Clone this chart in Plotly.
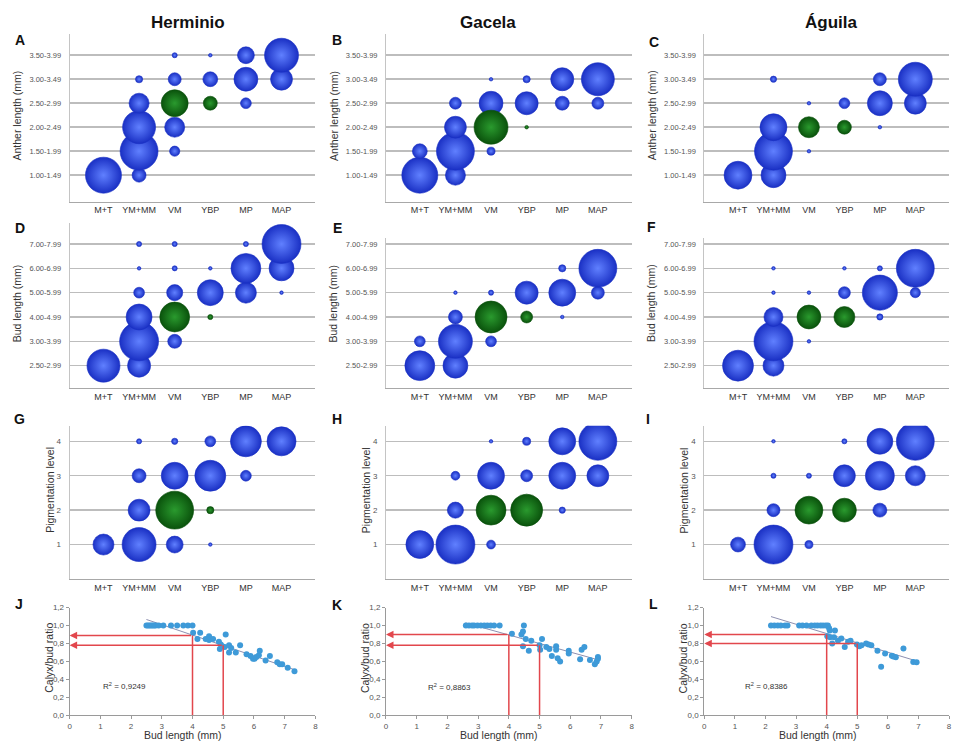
import plotly.graph_objects as go

W, H = 958, 745

# ---------------- data ----------------
cultivars = ["Herminio", "Gacela", "Águila"]
stages = ["M+T", "YM+MM", "VM", "YBP", "MP", "MAP"]
anther_classes = ["1.00-1.49", "1.50-1.99", "2.00-2.49", "2.50-2.99", "3.00-3.49", "3.50-3.99"]
bud_classes = ["2.50-2.99", "3.00-3.99", "4.00-4.99", "5.00-5.99", "6.00-6.99", "7.00-7.99"]
pigment_levels = [1, 2, 3, 4]

# bubble counts: rows = class (low -> high), columns = stage
herminio_anther = [
    [100, 15, 0, 0, 0, 0],
    [0, 111, 8, 0, 0, 0],
    [0, 84, 31, 0, 0, 0],
    [0, 31, 56, 15, 9, 0],
    [0, 4, 13, 17, 44, 37],
    [0, 0, 2, 1, 22, 89],
]
gacela_anther = [
    [100, 31, 0, 0, 0, 0],
    [17, 111, 5, 0, 0, 0],
    [0, 37, 89, 1, 0, 0],
    [0, 11, 44, 41, 15, 11],
    [0, 0, 1, 4, 41, 84],
    [0, 0, 0, 0, 0, 0],
]
aguila_anther = [
    [60, 48, 0, 0, 0, 0],
    [0, 111, 1, 0, 0, 0],
    [0, 56, 34, 15, 1, 0],
    [0, 0, 1, 9, 48, 37],
    [0, 3, 0, 0, 13, 89],
    [0, 0, 0, 0, 0, 0],
]
herminio_bud = [
    [84, 41, 0, 0, 0, 0],
    [0, 117, 15, 0, 0, 0],
    [0, 52, 69, 2, 0, 0],
    [0, 9, 20, 52, 34, 1],
    [0, 1, 2, 1, 69, 48],
    [0, 2, 2, 0, 2, 117],
]
gacela_bud = [
    [69, 48, 0, 0, 0, 0],
    [9, 89, 9, 0, 0, 0],
    [0, 15, 79, 11, 1, 0],
    [0, 1, 2, 41, 56, 13],
    [0, 0, 0, 0, 4, 111],
    [0, 0, 0, 0, 0, 0],
]
aguila_bud = [
    [74, 34, 0, 0, 0, 0],
    [0, 117, 1, 0, 0, 0],
    [0, 28, 44, 34, 3, 0],
    [0, 1, 1, 11, 95, 8],
    [0, 1, 0, 1, 2, 111],
    [0, 0, 0, 0, 0, 0],
]
herminio_pigment = [
    [34, 89, 22, 1, 0, 0],
    [0, 37, 111, 4, 0, 0],
    [0, 15, 56, 74, 9, 0],
    [0, 2, 3, 9, 74, 65],
]
gacela_pigment = [
    [60, 117, 6, 0, 0, 0],
    [0, 20, 69, 79, 3, 0],
    [0, 6, 56, 11, 56, 37],
    [0, 0, 1, 5, 56, 111],
]
aguila_pigment = [
    [17, 117, 5, 0, 0, 0],
    [0, 13, 60, 44, 15, 0],
    [0, 2, 2, 37, 65, 31],
    [0, 1, 0, 2, 52, 111],
]
# class index at which the VM / YBP bubbles are highlighted (green)
green_class = {"A": 3, "B": 2, "C": 2, "D": 2, "E": 2, "F": 2, "G": 1, "H": 1, "I": 1}
green_stages = ["VM", "YBP"]

# calyx/bud ratio vs bud length
herminio_len = [2.5, 2.55, 2.6, 2.65, 2.7, 2.75, 2.8, 2.9, 3.05, 3.3, 3.5, 3.7, 3.85, 4.0,
                4.02, 4.16, 4.25, 4.43, 4.54, 4.54, 4.67, 4.86, 4.92, 4.89, 4.97, 5.08, 5.05,
                5.19, 5.19, 5.26, 5.41, 5.55, 5.76, 5.89, 5.97, 6.02, 6.08, 6.16, 6.19, 6.38,
                6.52, 6.76, 6.84, 6.92, 7.1, 7.32]
herminio_ratio = [1.0] * 14 + [0.92, 0.85, 0.92, 0.85, 0.84, 0.88, 0.85, 0.82, 0.79, 0.74, 0.77,
                               0.90, 0.76, 0.78, 0.70, 0.75, 0.70, 0.78, 0.68, 0.66, 0.63, 0.63,
                               0.65, 0.67, 0.72, 0.61, 0.66, 0.59, 0.57, 0.57, 0.53, 0.49]
gacela_len = [2.6, 2.7, 2.8, 2.87, 2.98, 3.09, 3.2, 3.3, 3.41, 3.52, 3.7,
              4.1, 4.41, 4.46, 4.49, 4.55, 4.46, 4.73, 4.65, 5.0, 5.02, 5.08, 5.22, 5.32, 5.4,
              5.54, 5.54, 5.59, 5.67, 5.95, 5.95, 6.32, 6.37, 6.46, 6.64, 6.8, 6.86, 6.9, 6.9]
gacela_ratio = [1.0] * 11 + [0.91, 0.90, 0.935, 1.0, 0.85, 0.77, 0.83, 0.72, 0.78, 0.73, 0.85,
                             0.76, 0.74, 0.66, 0.77, 0.73, 0.635, 0.60, 0.72, 0.69, 0.625, 0.73,
                             0.76, 0.615, 0.57, 0.60, 0.65, 0.63]
aguila_len = [2.18, 2.29, 2.4, 2.5, 2.64, 2.72, 3.1, 3.21, 3.34, 3.5, 3.61, 3.7, 3.8, 3.88, 3.97, 4.04,
              4.08, 4.1, 4.27, 4.02, 4.11, 4.24, 4.18, 4.37, 4.48, 4.59, 4.7, 4.78, 4.99, 5.07,
              5.14, 5.29, 5.37, 5.46, 5.66, 5.78, 5.91, 6.13, 6.18, 6.26, 6.51, 6.83, 6.94]
aguila_ratio = [1.0] * 16 + [0.97, 0.945, 0.945, 0.88, 0.87, 0.87, 0.80, 0.83, 0.855, 0.76, 0.82,
                             0.83, 0.79, 0.77, 0.78, 0.80, 0.79, 0.78, 0.72, 0.54, 0.69, 0.665,
                             0.655, 0.647, 0.745, 0.593, 0.59]
trend_x = {"J": [2.5, 7.35], "K": [2.59, 6.94], "L": [2.18, 6.99]}
trend_y = {"J": [1.068, 0.505], "K": [1.03, 0.615], "L": [1.10, 0.60]}
r2_text = {"J": "0,9249", "K": "0,8863", "L": "0,8386"}
ref_length = [4, 5]
ref_ratio = {"J": [0.89, 0.78], "K": [0.90, 0.78], "L": [0.90, 0.80]}

# ---------------- layout helpers ----------------
col_px = [(68, 315), (386, 633), (706, 952)]
FONT = "Liberation Sans, Arial, sans-serif"
SIZEREF = 2 / 3.6 ** 2
# (edge colour, centre colour)
BLUE_EDGE, BLUE_CENTER = "#1a30c4", "#6080ff"
GREEN_EDGE, GREEN_CENTER = "#0a520c", "#2a9a2e"


def xd(c):
    return [col_px[c][0] / W, col_px[c][1] / W]


def yd(top, bot):
    return [1 - bot / H, 1 - top / H]


def label(px, py, text, size, color="#333", angle=0):
    return dict(x=px / W, y=1 - py / H, xref="paper", yref="paper", text=text,
                textangle=angle, showarrow=False, xanchor="center", yanchor="middle",
                font=dict(size=size, color=color))


fig = go.Figure()
layout = dict(
    width=W, height=H, margin=dict(l=0, r=0, t=0, b=0),
    paper_bgcolor="white", plot_bgcolor="white", showlegend=False, hovermode=False,
    font=dict(family=FONT, color="#333"),
)
annotations = []
shapes = []

bubble_panels = [
    ("A", herminio_anther, anther_classes, 30, 200, [-1.1, 5.9], "Anther length (mm)"),
    ("B", gacela_anther, anther_classes, 30, 200, [-1.1, 5.9], "Anther length (mm)"),
    ("C", aguila_anther, anther_classes, 30, 200, [-1.1, 5.9], "Anther length (mm)"),
    ("D", herminio_bud, bud_classes, 222, 389, [-0.93, 5.85], "Bud length (mm)"),
    ("E", gacela_bud, bud_classes, 237, 389, [-0.93, 5.24], "Bud length (mm)"),
    ("F", aguila_bud, bud_classes, 237, 389, [-0.93, 5.24], "Bud length (mm)"),
    ("G", herminio_pigment, pigment_levels, 427, 582, [0, 4.45], "Pigmentation level"),
    ("H", gacela_pigment, pigment_levels, 427, 582, [0, 4.45], "Pigmentation level"),
    ("I", aguila_pigment, pigment_levels, 427, 582, [0, 4.45], "Pigmentation level"),
]
letter_pos = {"A": (18, 36), "B": (337, 36), "C": (655, 38), "D": (18, 227), "E": (337, 227),
              "F": (653, 226), "G": (18, 420), "H": (337, 420), "I": (649, 420),
              "J": (17, 607), "K": (337, 608), "L": (655, 607)}

for idx, (letter, mat, classes, top, bot, yr, ytitle) in enumerate(bubble_panels):
    k = idx + 1
    c = idx % 3
    xa, ya = f"x{k}", f"y{k}"
    pigment = isinstance(classes[0], int)
    yvals = classes if pigment else list(range(len(classes)))
    bx, by, bs, gx, gy, gs = [], [], [], [], [], []
    for ci, row in enumerate(mat):
        for si, n in enumerate(row):
            if n <= 0:
                continue
            if stages[si] in green_stages and ci == green_class[letter]:
                gx.append(si); gy.append(yvals[ci]); gs.append(n)
            else:
                bx.append(si); by.append(yvals[ci]); bs.append(n)
    for xs, ys, ss, edge, center in [(bx, by, bs, BLUE_EDGE, BLUE_CENTER),
                                     (gx, gy, gs, GREEN_EDGE, GREEN_CENTER)]:
        fig.add_trace(go.Scatter(
            x=xs, y=ys, mode="markers", xaxis=xa, yaxis=ya, hoverinfo="skip",
            marker=dict(size=ss, sizemode="area", sizeref=SIZEREF, color=edge,
                        gradient=dict(type="radial", color=center),
                        line=dict(width=0.6, color=edge), opacity=1)))
    sfx = "" if k == 1 else str(k)
    layout["xaxis" + sfx] = dict(
        domain=xd(c), anchor=ya, range=[-0.95, 5.95], tickvals=list(range(6)), ticktext=stages,
        showline=True, linecolor="#a8a8a8", linewidth=1, showgrid=False, zeroline=False,
        ticks="", tickfont=dict(size=9, color="#333"), fixedrange=True)
    layout["yaxis" + sfx] = dict(
        domain=yd(top, bot), anchor=xa, range=yr, tickvals=yvals,
        ticktext=[str(v) for v in classes], showline=True, linecolor="#c4c4c4", linewidth=1,
        showgrid=True, gridcolor="#bdbdbd", gridwidth=1.5, zeroline=False, ticks="",
        ticklabelstandoff=6, tickfont=dict(size=7.5 if not pigment else 8, color="#555"),
        fixedrange=True)
    tx = col_px[c][0] - (53 if not pigment else 20)
    ty = {30: 113, 222: 303, 237: 303, 427: 492}[top]
    annotations.append(label(tx, ty, ytitle, 10.5, angle=-90))

scatter_panels = [
    ("J", herminio_len, herminio_ratio),
    ("K", gacela_len, gacela_ratio),
    ("L", aguila_len, aguila_ratio),
]
for j, (letter, xs, ys) in enumerate(scatter_panels):
    k = 10 + j
    xa, ya = f"x{k}", f"y{k}"
    fig.add_trace(go.Scatter(x=trend_x[letter], y=trend_y[letter], mode="lines", xaxis=xa,
                             yaxis=ya, line=dict(color="#8d8fb0", width=1), hoverinfo="skip"))
    for L, R in zip(ref_length, ref_ratio[letter]):
        shapes.append(dict(type="line", xref=xa, yref=ya, x0=L, x1=L, y0=0, y1=R,
                           line=dict(color="#e2474d", width=1.5)))
        annotations.append(dict(x=0, y=R, ax=L, ay=R, xref=xa, yref=ya, axref=xa, ayref=ya,
                                text="", showarrow=True, arrowhead=2, arrowsize=1,
                                arrowwidth=1.5, arrowcolor="#e2474d", standoff=0))
    fig.add_trace(go.Scatter(x=xs, y=ys, mode="markers", xaxis=xa, yaxis=ya, hoverinfo="skip",
                             marker=dict(size=6, color="#3e9ad8")))
    annotations.append(dict(x={"J": 1.8, "K": 2.08, "L": 2.02}[letter],
                            y={"J": 0.33, "K": 0.31, "L": 0.33}[letter], xref=xa, yref=ya,
                            text="R<sup>2</sup> = " + r2_text[letter], showarrow=False,
                            xanchor="center", yanchor="middle",
                            font=dict(size=8, color="#333")))
    layout[f"xaxis{k}"] = dict(
        domain=xd(j), anchor=ya, range=[0, 8], dtick=1, showline=True, linecolor="#9a9a9a",
        showgrid=False, zeroline=False, ticks="outside", ticklen=3, tickcolor="#9a9a9a",
        tickfont=dict(size=8, color="#555"), fixedrange=True)
    layout[f"yaxis{k}"] = dict(
        domain=yd(611, 720), anchor=xa, range=[0, 1.2],
        tickvals=[0, 0.2, 0.4, 0.6, 0.8, 1.0, 1.2],
        ticktext=["0,0", "0,2", "0,4", "0,6", "0,8", "1,0", "1,2"],
        showline=True, linecolor="#9a9a9a", showgrid=False, zeroline=False, ticks="outside",
        ticklen=3, tickcolor="#9a9a9a", tickfont=dict(size=8, color="#555"), fixedrange=True)
    annotations.append(label(col_px[j][0] - 21, 662, "Calyx/bud ratio", 10.5, angle=-90))
    annotations.append(label(col_px[j][0] + 114, 739.5, "Bud length (mm)", 10.5))

for name, cx in zip(cultivars, [187, 489, 833]):
    annotations.append(label(cx, 19, f"<b>{name}</b>", 17, color="#111"))
for letter, (lx, ly) in letter_pos.items():
    annotations.append(label(lx, ly, f"<b>{letter}</b>", 14, color="#111"))

layout["annotations"] = annotations
layout["shapes"] = shapes
fig.update_layout(**layout)
fig.write_html("out.html", config={"displayModeBar": False, "staticPlot": True},
               post_script="document.body.style.margin='0';")
